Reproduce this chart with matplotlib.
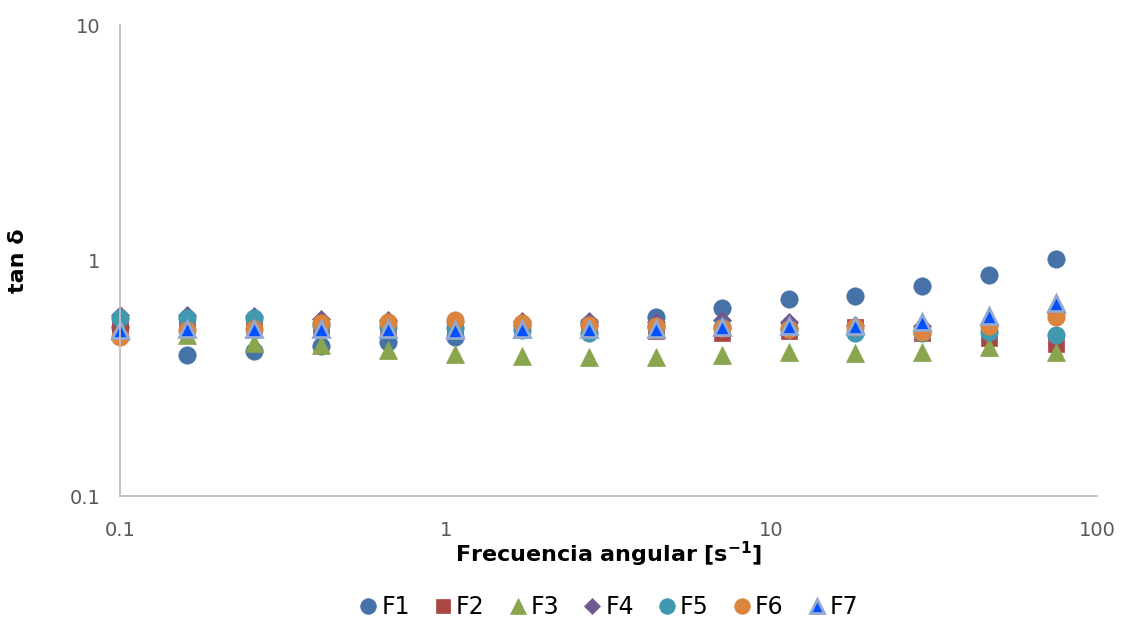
import matplotlib.pyplot as plt
from matplotlib.ticker import FixedLocator, NullLocator

# angular frequency [1/s]
freq = [0.1, 0.16, 0.257, 0.413, 0.664, 1.07, 1.71, 2.75, 4.41, 7.07,
        11.3, 18.1, 29.0, 46.6, 74.8]

f1 = [0.52, 0.397, 0.413, 0.433, 0.452, 0.475, 0.53, 0.54, 0.577, 0.629,
      0.687, 0.707, 0.779, 0.868, 1.015]
f2 = [0.53, 0.53, 0.53, 0.527, 0.52, 0.52, 0.507, 0.52, 0.50, 0.49,
      0.50, 0.52, 0.49, 0.469, 0.443]
f3 = [0.50, 0.483, 0.447, 0.437, 0.417, 0.401, 0.393, 0.39, 0.389, 0.397,
      0.41, 0.406, 0.41, 0.428, 0.41]
f4 = [0.587, 0.587, 0.58, 0.565, 0.56, 0.55, 0.555, 0.553, 0.548, 0.56,
      0.548, 0.53, 0.527, 0.54, 0.60]
f5 = [0.568, 0.568, 0.568, 0.53, 0.52, 0.517, 0.507, 0.49, 0.52, 0.52,
      0.51, 0.49, 0.49, 0.498, 0.483]
f6 = [0.475, 0.507, 0.512, 0.543, 0.55, 0.559, 0.543, 0.532, 0.527, 0.517,
      0.512, 0.522, 0.498, 0.527, 0.574]
f7 = [0.507, 0.512, 0.512, 0.512, 0.51, 0.507, 0.51, 0.51, 0.51, 0.522,
      0.527, 0.527, 0.55, 0.581, 0.658]

series = [
    ("F1", f1, "o", 12.5, "#4672A8", "#4672A8"),
    ("F2", f2, "s", 11.5, "#AA4643", "#AA4643"),
    ("F3", f3, "^", 13, "#89A54E", "#89A54E"),
    ("F4", f4, "D", 8.8, "#71588F", "#71588F"),
    ("F5", f5, "o", 12.5, "#4198AF", "#4198AF"),
    ("F6", f6, "o", 12.5, "#DB843D", "#DB843D"),
    ("F7", f7, "^", 12, "#0050FF", "#93A9CF"),
]

fig = plt.figure(figsize=(11.25, 6.19), dpi=100)
ax = fig.add_axes([0.1067, 0.1987, 0.8685, 0.7609])

for name, vals, mk, ms, fc, ec in series:
    ax.plot(freq, vals, linestyle="none", marker=mk, markersize=ms,
            markerfacecolor=fc, markeredgecolor=ec,
            markeredgewidth=2 if name == "F7" else 0.5,
            label=name, clip_on=False)

ax.set_xscale("log")
ax.set_yscale("log")
ax.set_xlim(0.1, 100)
ax.set_ylim(0.1, 10)

ax.xaxis.set_major_locator(FixedLocator([0.1, 1, 10, 100]))
ax.yaxis.set_major_locator(FixedLocator([0.1, 1, 10]))
ax.xaxis.set_minor_locator(NullLocator())
ax.yaxis.set_minor_locator(NullLocator())
ax.set_xticklabels(["0.1", "1", "10", "100"])
ax.set_yticklabels(["0.1", "1", "10"])
ax.tick_params(axis="both", length=0, labelsize=14, labelcolor="#595959")
ax.tick_params(axis="x", pad=18)
ax.tick_params(axis="y", pad=14)

for side in ["top", "right"]:
    ax.spines[side].set_visible(False)
for side in ["left", "bottom"]:
    ax.spines[side].set_color("#BFBFBF")
    ax.spines[side].set_linewidth(1.3)

ax.set_xlabel("Frecuencia angular [s$^{\\mathbf{-1}}$]", fontsize=16,
              fontweight="bold", labelpad=0)
ax.set_ylabel("tan δ", fontsize=16, fontweight="bold", labelpad=30)

leg = ax.legend(loc="upper center", bbox_to_anchor=(0.5, -0.19), ncol=7,
                frameon=False, fontsize=17, handlelength=0.8,
                handletextpad=0.15, columnspacing=1.0, markerscale=0.9,
                borderaxespad=0)
leg.legend_handles[6].set_markersize(10)

fig.savefig("out.png", dpi=100)
